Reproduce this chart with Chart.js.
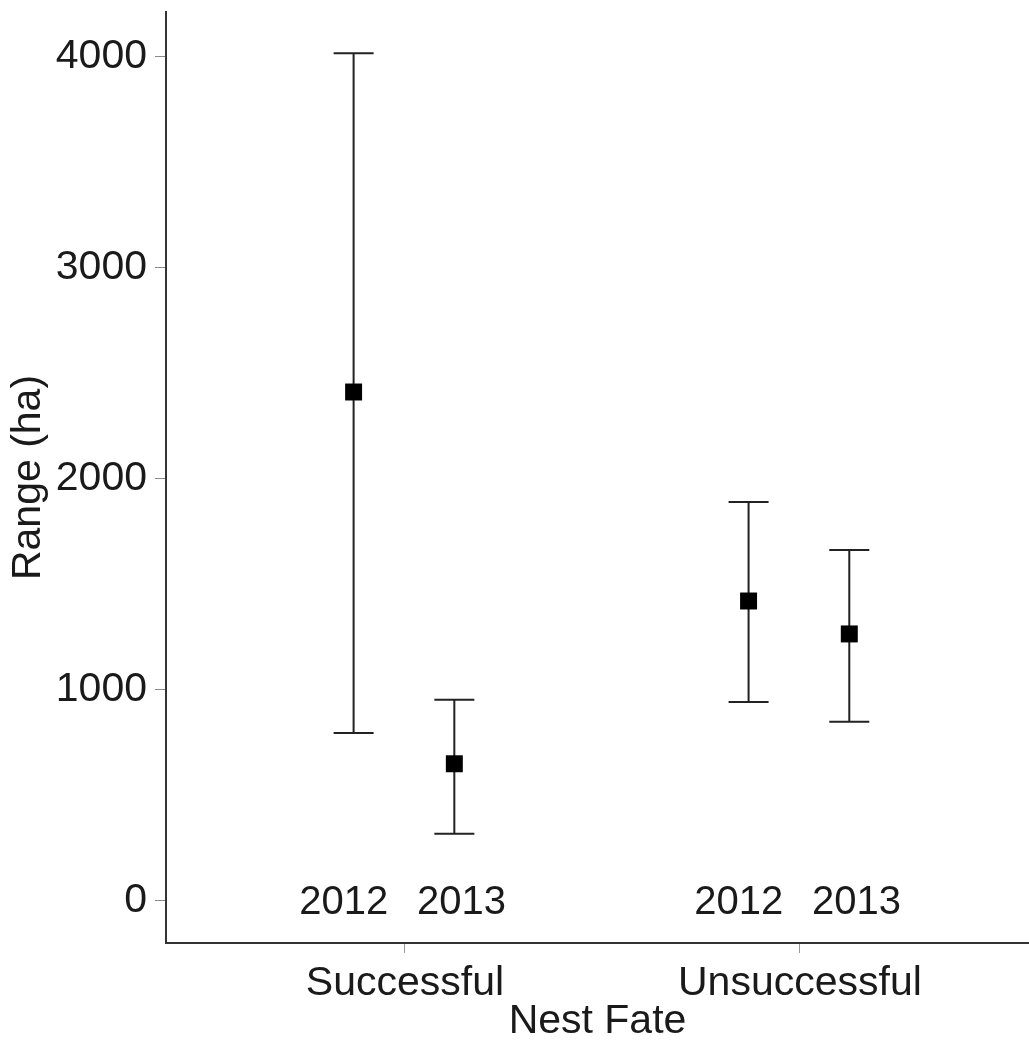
<!DOCTYPE html>
<html>
<head>
<meta charset="utf-8">
<script src="https://cdn.jsdelivr.net/npm/chart.js@4/dist/chart.umd.min.js"></script>
<style>
  html, body { margin: 0; padding: 0; background: #fff; }
  #wrap { width: 1029px; height: 1044px; }
</style>
</head>
<body>
<div id="wrap"><canvas id="c" width="1029" height="1044"></canvas></div>
<script>
const groups = ['Successful', 'Unsuccessful'];
const years = ['2012', '2013'];
const mean2012 = [2410, 1420];
const lower2012 = [795, 942];
const upper2012 = [4015, 1889];
const mean2013 = [649, 1264];
const lower2013 = [317, 848];
const upper2013 = [952, 1662];
const yTicks = [0, 1000, 2000, 3000, 4000];

const FONT = "'Liberation Sans', Arial, sans-serif";
const INK = '#1a1a1a';
const dodge = [-0.13, 0.125];
const labelShift = [-0.155, 0.143];

function series(means, lows, highs, k) {
  return means.map((m, i) => ({ x: i + 1 + dodge[k], y: m, lo: lows[i], hi: highs[i] }));
}

const errorBars = {
  id: 'errorBars',
  beforeDatasetsDraw(chart) {
    const { ctx, scales: { x, y } } = chart;
    ctx.save();
    ctx.strokeStyle = '#222';
    ctx.lineWidth = 2;
    chart.data.datasets.forEach(ds => {
      ds.data.forEach(p => {
        const px = x.getPixelForValue(p.x);
        const top = y.getPixelForValue(p.hi);
        const bot = y.getPixelForValue(p.lo);
        ctx.beginPath();
        ctx.moveTo(px, top); ctx.lineTo(px, bot);
        ctx.moveTo(px - 20, top); ctx.lineTo(px + 20, top);
        ctx.moveTo(px - 20, bot); ctx.lineTo(px + 20, bot);
        ctx.stroke();
      });
    });
    ctx.restore();
  },
  afterDatasetsDraw(chart) {
    const { ctx, scales: { x, y } } = chart;
    ctx.save();
    ctx.fillStyle = INK;
    ctx.font = '40px ' + FONT;
    ctx.textAlign = 'center';
    ctx.textBaseline = 'middle';
    groups.forEach((g, i) => {
      years.forEach((yr, k) => {
        ctx.fillText(yr, x.getPixelForValue(i + 1 + labelShift[k]), y.getPixelForValue(0) + 2);
      });
    });
    ctx.restore();
  }
};

new Chart(document.getElementById('c'), {
  type: 'scatter',
  data: {
    datasets: [
      { label: years[0], data: series(mean2012, lower2012, upper2012, 0) },
      { label: years[1], data: series(mean2013, lower2013, upper2013, 1) },
    ],
  },
  options: {
    responsive: false,
    animation: false,
    layout: { autoPadding: false, padding: { top: 12, right: 0, left: 0, bottom: 0 } },
    elements: {
      point: { pointStyle: 'rect', radius: 12, backgroundColor: '#000', borderColor: '#000', borderWidth: 0 },
    },
    plugins: { legend: { display: false }, tooltip: { enabled: false } },
    scales: {
      x: {
        type: 'linear',
        min: 0.395,
        max: 2.58,
        afterBuildTicks: s => { s.ticks = groups.map((_, i) => ({ value: i + 1 })); },
        afterFit: s => { s.height = 101; s.paddingLeft = 0; s.paddingRight = 0; },
        ticks: {
          callback: v => groups[v - 1],
          color: INK,
          font: { family: FONT, size: 41 },
          padding: 6,
          maxRotation: 0,
        },
        grid: { drawOnChartArea: false, drawTicks: true, tickLength: 10, color: '#999', lineWidth: 1 },
        border: { display: true, color: '#333', width: 2 },
        title: { display: true, text: 'Nest Fate', color: INK, font: { family: FONT, size: 41, lineHeight: 1.1 }, padding: { top: 0, bottom: 0 } },
      },
      y: {
        min: -200,
        max: 4210,
        afterBuildTicks: s => { s.ticks = yTicks.map(v => ({ value: v })); },
        afterFit: s => { s.width = 166; s.paddingTop = 0; s.paddingBottom = 0; },
        ticks: { callback: v => String(v), color: INK, font: { family: FONT, size: 41 }, padding: 8 },
        grid: { drawOnChartArea: false, drawTicks: true, tickLength: 11, color: '#888', lineWidth: 1 },
        border: { display: true, color: '#333', width: 2 },
        title: { display: true, text: 'Range (ha)', color: INK, font: { family: FONT, size: 41 }, padding: { top: 4, bottom: 0 } },
      },
    },
  },
  plugins: [errorBars],
});
</script>
</body>
</html>
